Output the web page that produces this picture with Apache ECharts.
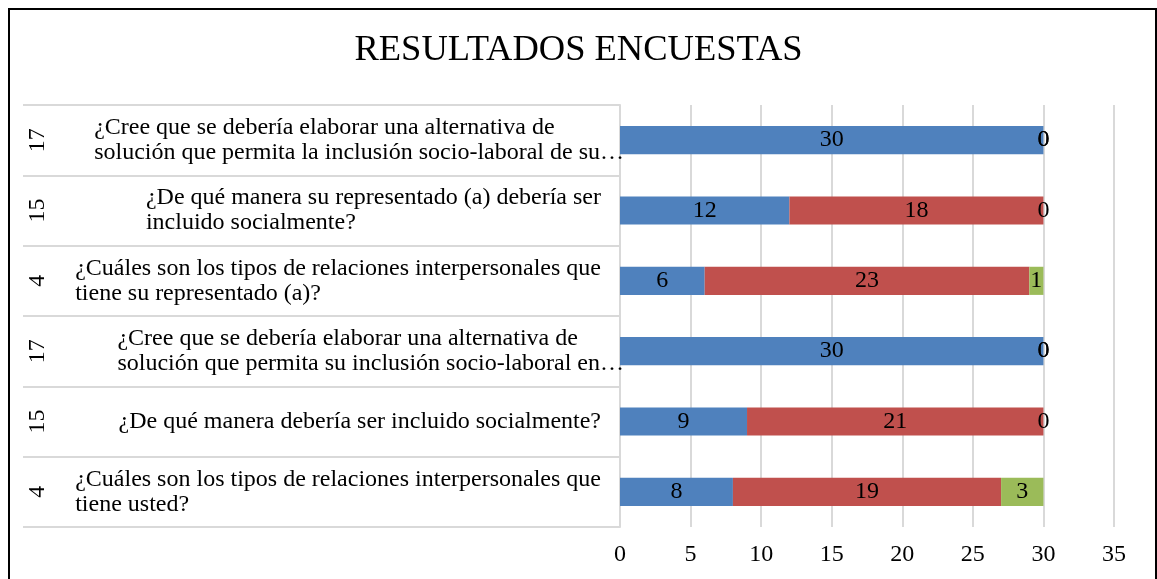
<!DOCTYPE html>
<html>
<head>
<meta charset="utf-8">
<script src="https://cdn.jsdelivr.net/npm/echarts@6/dist/echarts.min.js"></script>
<style>
  html, body { margin: 0; padding: 0; background: #fff; }
  #chart { width: 1157px; height: 579px; }
</style>
</head>
<body>
<div id="chart"></div>
<script>
// Survey questions, listed bottom to top as the category axis draws them
const questions = [
  '¿Cuáles son los tipos de relaciones interpersonales que\ntiene usted?',
  '¿De qué manera debería ser incluido socialmente?',
  '¿Cree que se debería elaborar una alternativa de\nsolución que permita su inclusión socio-laboral en…',
  '¿Cuáles son los tipos de relaciones interpersonales que\ntiene su representado (a)?',
  '¿De qué manera su representado (a) debería ser\nincluido socialmente?',
  '¿Cree que se debería elaborar una alternativa de\nsolución que permita la inclusión socio-laboral de su…'
];
// Question numbers shown on the outer category level
const questionNumbers = ['4', '15', '17', '4', '15', '17'];

// Answer counts per question
const serie1 = [8, 9, 30, 6, 12, 30];
const serie2 = [19, 21, 0, 23, 18, 0];
const serie3 = [3, 0, 0, 1, 0, 0];

const xTicks = { min: 0, max: 35, interval: 5 };

const FONT = "'Liberation Serif', 'Times New Roman', 'DejaVu Serif', serif";
const FONT_SIZE = 24;
const GRID_GREY = '#D9D9D9';

// Each label line is left-aligned inside its block; a trailing ellipsis
// is allowed to hang past the block's right edge.
function questionLabel(value) {
  return value.split('\n').map(function (line) {
    if (line.endsWith('…')) {
      return '{q|' + line.slice(0, -1) + '}{e|…}';
    }
    return '{q|' + line + '}';
  }).join('\n');
}

const labelStyle = {
  show: true,
  position: 'inside',
  color: '#000',
  fontFamily: FONT,
  fontSize: FONT_SIZE
};

function barSeries(name, data, color) {
  return {
    name: name,
    type: 'bar',
    stack: 'total',
    barWidth: '40%',
    data: data,
    itemStyle: { color: color },
    label: labelStyle
  };
}

const chart = echarts.init(document.getElementById('chart'), null, { renderer: 'canvas' });
chart.setOption({
  animation: false,
  backgroundColor: '#fff',
  title: {
    text: 'RESULTADOS ENCUESTAS',
    left: 'center',
    top: 27,
    textStyle: { fontFamily: FONT, fontSize: 36.5, fontWeight: 'normal', color: '#000' }
  },
  graphic: [{
    type: 'rect',
    shape: { x: 9, y: 9, width: 1147, height: 620 },
    style: { fill: 'none', stroke: '#000', lineWidth: 2 },
    silent: true
  }],
  grid: { left: 620, right: 43, top: 105, bottom: 52, containLabel: false },
  xAxis: {
    type: 'value',
    min: xTicks.min,
    max: xTicks.max,
    interval: xTicks.interval,
    axisLine: { show: false },
    axisTick: { show: false },
    splitLine: { show: true, lineStyle: { color: GRID_GREY, width: 2 } },
    axisLabel: { color: '#000', fontFamily: FONT, fontSize: FONT_SIZE, margin: 16 }
  },
  yAxis: [{
    type: 'category',
    data: questions,
    axisLine: { show: true, lineStyle: { color: GRID_GREY, width: 2 } },
    axisTick: { show: true, length: 597, lineStyle: { color: GRID_GREY, width: 2 } },
    axisLabel: {
      margin: 19,
      color: '#000',
      fontFamily: FONT,
      fontSize: FONT_SIZE,
      lineHeight: 25,
      formatter: questionLabel,
      rich: {
        q: { align: 'left', fontFamily: FONT, fontSize: FONT_SIZE, lineHeight: 25, color: '#000' },
        e: { align: 'left', width: 1, fontFamily: FONT, fontSize: FONT_SIZE, lineHeight: 25, color: '#000' }
      }
    }
  }, {
    type: 'category',
    data: questionNumbers,
    position: 'left',
    offset: 560,
    axisLine: { show: false },
    axisTick: { show: false },
    axisLabel: { rotate: 90, margin: 10, color: '#000', fontFamily: FONT, fontSize: FONT_SIZE }
  }],
  series: [
    barSeries('Serie 1', serie1, '#4F81BD'),
    barSeries('Serie 2', serie2, '#C0504D'),
    barSeries('Serie 3', serie3, '#9BBB59')
  ]
});
</script>
</body>
</html>
